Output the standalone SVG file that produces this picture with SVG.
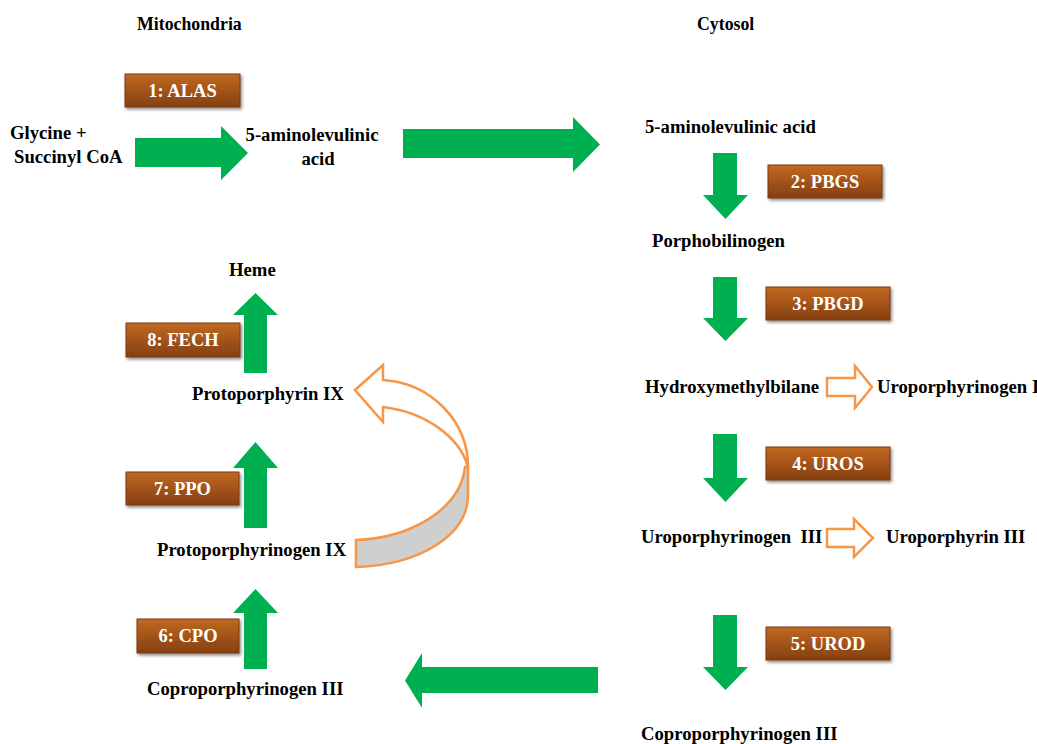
<svg xmlns="http://www.w3.org/2000/svg" width="1037" height="744" viewBox="0 0 1037 744">
<defs>
<linearGradient id="brown" x1="0" y1="0" x2="0" y2="1">
<stop offset="0" stop-color="#C06A22"/>
<stop offset="0.5" stop-color="#A4531A"/>
<stop offset="1" stop-color="#84400F"/>
</linearGradient>
<filter id="sh" x="-10%" y="-20%" width="125%" height="150%">
<feDropShadow dx="1.5" dy="2" stdDeviation="1.5" flood-color="#000" flood-opacity="0.45"/>
</filter>
</defs>
<style>
.lbl{font-family:"Liberation Serif","Times New Roman",serif;font-weight:bold;font-size:18.7px;fill:#000;white-space:pre}
.hdr{font-family:"Liberation Serif","Times New Roman",serif;font-weight:bold;font-size:17.8px;fill:#000}
.box{fill:url(#brown);stroke:#7A3A0E;stroke-width:1;filter:url(#sh)}
.btxt{font-family:"Liberation Serif","Times New Roman",serif;font-weight:bold;font-size:18.5px;fill:#fff;text-anchor:middle}
.g{fill:#00B050}
.o{fill:#fff;stroke:#F79646;stroke-width:2.5;stroke-linejoin:miter}
.og{fill:#CFCFCF;stroke:#F79646;stroke-width:2.5}
</style>
<rect width="1037" height="744" fill="#fff"/>
<g id="headers">
<text class="hdr" x="137" y="30">Mitochondria</text>
<text class="hdr" x="697" y="30">Cytosol</text>
</g>
<g id="connectors">
<polygon class="g" points="135,138 221,138 221,126 248,153 221,180 221,167 135,167"/>
<polygon class="g" points="403,129 573,129 573,117 600,144.5 573,172 573,158 403,158"/>
<polygon class="g" points="713,153 737,153 737,195 748,195 725.5,219 703,195 713,195"/>
<polygon class="g" points="713,277 737,277 737,318 748,318 725.5,341 703,318 713,318"/>
<polygon class="g" points="713,434 737,434 737,478 748,478 725.5,502 703,478 713,478"/>
<polygon class="g" points="713,615 737,615 737,667 748,667 725.5,690 703,667 713,667"/>
<polygon class="g" points="598,667 422,667 422,653 405,680.5 422,708 422,693 598,693"/>
<polygon class="g" points="244,669 244,613 233,613 255.5,589 278,613 267,613 267,669"/>
<polygon class="g" points="244,528 244,468 233,468 255.5,442 278,468 267,468 267,528"/>
<polygon class="g" points="244,373 244,315 233,315 255.5,293 278,315 267,315 267,373"/>
<polygon class="o" points="827,378 855,378 855,366 872,387 855,408 855,396 827,396"/>
<polygon class="o" points="827,529 854,529 854,519 873,538 854,557 854,547 827,547"/>
<path class="og" d="M465,467 C460,510 410,538 356,540 L356,567 C420,565 468,535 468,495 L468,467 Z"/>
<path class="o" d="M355,390 L383,365 L383,380 C430,383 468,420 468,467 C460,437 425,412 383,407 L383,422 Z"/>
</g>
<g id="n-glycine"><text class="lbl" x="10" y="139">Glycine +</text><text class="lbl" x="14" y="163">Succinyl CoA</text></g>
<g id="n-ala-mito"><text class="lbl" x="312" y="141" text-anchor="middle">5-aminolevulinic</text><text class="lbl" x="318" y="165" text-anchor="middle">acid</text></g>
<g id="n-ala-cyto"><text class="lbl" x="645" y="133">5-aminolevulinic acid</text></g>
<g id="n-pbg"><text class="lbl" x="652" y="247">Porphobilinogen</text></g>
<g id="n-hmb"><text class="lbl" x="645" y="393">Hydroxymethylbilane</text></g>
<g id="n-uroI"><text class="lbl" x="877" y="393">Uroporphyrinogen I</text></g>
<g id="n-uroIII"><text class="lbl" x="641" y="543">Uroporphyrinogen  III</text></g>
<g id="n-urophyrin"><text class="lbl" x="886" y="543">Uroporphyrin III</text></g>
<g id="n-copro-cyto"><text class="lbl" x="641" y="740">Coproporphyrinogen III</text></g>
<g id="n-copro-mito"><text class="lbl" x="147" y="695">Coproporphyrinogen III</text></g>
<g id="n-protogen"><text class="lbl" x="157" y="556">Protoporphyrinogen IX</text></g>
<g id="n-proto"><text class="lbl" x="192" y="400">Protoporphyrin IX</text></g>
<g id="n-heme"><text class="lbl" x="229" y="276">Heme</text></g>
<g id="e1"><rect class="box" x="125" y="74" width="115" height="33"/><text class="btxt" x="182.5" y="97">1: ALAS</text></g>
<g id="e2"><rect class="box" x="768" y="165" width="114" height="33"/><text class="btxt" x="825" y="188">2: PBGS</text></g>
<g id="e3"><rect class="box" x="766" y="287" width="124" height="33"/><text class="btxt" x="828" y="310">3: PBGD</text></g>
<g id="e4"><rect class="box" x="766" y="447" width="124" height="33"/><text class="btxt" x="828" y="470">4: UROS</text></g>
<g id="e5"><rect class="box" x="766" y="627" width="124" height="33"/><text class="btxt" x="828" y="650">5: UROD</text></g>
<g id="e6"><rect class="box" x="137" y="619" width="102" height="34"/><text class="btxt" x="188" y="642">6: CPO</text></g>
<g id="e7"><rect class="box" x="126" y="472" width="113" height="33"/><text class="btxt" x="182.5" y="495">7: PPO</text></g>
<g id="e8"><rect class="box" x="126" y="323" width="114" height="34"/><text class="btxt" x="183" y="346">8: FECH</text></g>
</svg>
